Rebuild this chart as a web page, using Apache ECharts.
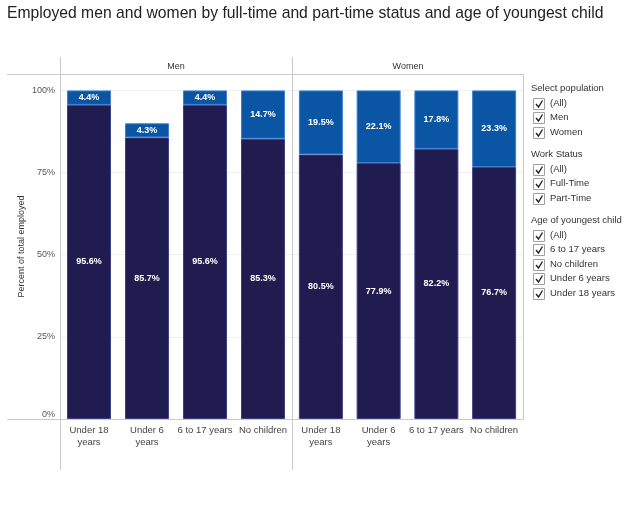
<!DOCTYPE html>
<html>
<head>
<meta charset="utf-8">
<script src="https://cdn.jsdelivr.net/npm/echarts@6/dist/echarts.min.js"></script>
<style>
html,body{margin:0;padding:0;background:#fff;}
#chart{width:640px;height:532px;}
</style>
</head>
<body>
<div id="chart"></div>
<script>
// ---- data ----
const titleText = 'Employed men and women by full-time and part-time status and age of youngest child';
const panels = ['Men', 'Women'];
const categories = ['Under 18 years', 'Under 6 years', '6 to 17 years', 'No children'];
const menFullTime = [95.6, 85.7, 95.6, 85.3];
const menPartTime = [4.4, 4.3, 4.4, 14.7];
const womenFullTime = [80.5, 77.9, 82.2, 76.7];
const womenPartTime = [19.5, 22.1, 17.8, 23.3];
const yTicks = [0, 25, 50, 75, 100];
const yAxisTitle = 'Percent of total employed';
const populationOptions = ['(All)', 'Men', 'Women'];
const workStatusOptions = ['(All)', 'Full-Time', 'Part-Time'];
const ageOptions = ['(All)', '6 to 17 years', 'No children', 'Under 6 years', 'Under 18 years'];
const filterTitles = ['Select population', 'Work Status', 'Age of youngest child'];

// ---- styles ----
const FONT = 'Liberation Sans, Arial, sans-serif';
const DARK = '#211c4f';
const BLUE = '#0a56a4';
const LINE = '#c9c9c9';

const chart = echarts.init(document.getElementById('chart'), null, {renderer: 'canvas'});

const gridTop = 74, gridH = 345;
const grids = [
  {left: 60, top: gridTop, width: 232, height: gridH},
  {left: 292, top: gridTop, width: 231, height: gridH}
];

function xAxisFor(i) {
  return {
    type: 'category', gridIndex: i, data: categories,
    axisLine: {show: false}, axisTick: {show: false},
    axisLabel: {
      color: '#444', fontFamily: FONT, fontSize: 9.5, margin: 5, lineHeight: 12,
      interval: 0,
      formatter: v => v.replace(/^(Under \d+) /, '$1\n')
    }
  };
}
function yAxisFor(i) {
  return {
    type: 'value', gridIndex: i, min: 0, max: 105, interval: 25,
    axisLine: {show: false}, axisTick: {show: false},
    splitLine: {show: true, lineStyle: {color: '#efefef', width: 1}},
    axisLabel: {
      show: i === 0, showMaxLabel: false, verticalAlignMinLabel: 'bottom',
      color: '#555', fontFamily: FONT, fontSize: 9, margin: 5,
      formatter: v => (yTicks.indexOf(v) >= 0 ? v + '%' : '')
    },
    name: i === 0 ? yAxisTitle : '',
    nameLocation: 'middle', nameRotate: 90, nameGap: 34,
    nameTextStyle: {color: '#333', fontFamily: FONT, fontSize: 9}
  };
}

const labelStyle = {
  show: true, position: 'inside', color: '#fff', fontFamily: FONT, fontSize: 9, fontWeight: 'bold',
  formatter: p => p.value.toFixed(1) + '%'
};
function barSeries(name, data, idx, color, stack, border) {
  return {
    type: 'bar', name: name, data: data, xAxisIndex: idx, yAxisIndex: idx, stack: stack,
    barWidth: 44,
    itemStyle: {color: color, borderColor: border, borderWidth: 1},
    label: labelStyle,
    emphasis: {disabled: true}
  };
}

// ---- frame, headers and filter panel graphics ----
const graphics = [];
function addLine(x1, y1, x2, y2) {
  graphics.push({type: 'line', shape: {x1, y1, x2, y2}, style: {stroke: LINE, lineWidth: 1}, z: 10, silent: true});
}
addLine(7, 74.5, 523, 74.5);
addLine(7, 419.5, 523, 419.5);
addLine(60.5, 57, 60.5, 470);
addLine(292.5, 57, 292.5, 470);
addLine(523.5, 74, 523.5, 419.5);

graphics.push({type: 'text', left: 7, top: 6, style: {text: titleText, fill: '#222', font: '15.7px ' + FONT}});
graphics.push({type: 'text', x: 176, y: 67, style: {text: panels[0], fill: '#333', font: '9px ' + FONT, textAlign: 'center', textVerticalAlign: 'middle'}});
graphics.push({type: 'text', x: 408, y: 67, style: {text: panels[1], fill: '#333', font: '9px ' + FONT, textAlign: 'center', textVerticalAlign: 'middle'}});

function addFilter(title, items, yTitle) {
  graphics.push({type: 'text', x: 531, y: yTitle, style: {text: title, fill: '#333', font: '9.5px ' + FONT, textVerticalAlign: 'middle'}});
  items.forEach((it, k) => {
    const cy = yTitle + 15 + k * 14.6;
    const by = Math.round(cy - 5.5) + 0.5;
    graphics.push({type: 'rect', shape: {x: 533.5, y: by, width: 11, height: 11}, style: {fill: '#fff', stroke: '#a0a0a0', lineWidth: 1}});
    graphics.push({type: 'polyline', shape: {points: [[536, by + 5.5], [538.5, by + 8.5], [542.5, by + 2]]}, style: {stroke: '#222', lineWidth: 1.4, fill: null}});
    graphics.push({type: 'text', x: 550, y: cy, style: {text: it, fill: '#333', font: '9.5px ' + FONT, textVerticalAlign: 'middle'}});
  });
}
addFilter(filterTitles[0], populationOptions, 88);
addFilter(filterTitles[1], workStatusOptions, 154);
addFilter(filterTitles[2], ageOptions, 220);

chart.setOption({
  animation: false,
  backgroundColor: '#fff',
  grid: grids,
  xAxis: [xAxisFor(0), xAxisFor(1)],
  yAxis: [yAxisFor(0), yAxisFor(1)],
  series: [
    barSeries('Men Full-Time', menFullTime, 0, DARK, 'men', '#3b3f8a'),
    barSeries('Men Part-Time', menPartTime, 0, BLUE, 'men', '#3e7fcf'),
    barSeries('Women Full-Time', womenFullTime, 1, DARK, 'women', '#3b3f8a'),
    barSeries('Women Part-Time', womenPartTime, 1, BLUE, 'women', '#3e7fcf')
  ],
  graphic: graphics
});
</script>
</body>
</html>
